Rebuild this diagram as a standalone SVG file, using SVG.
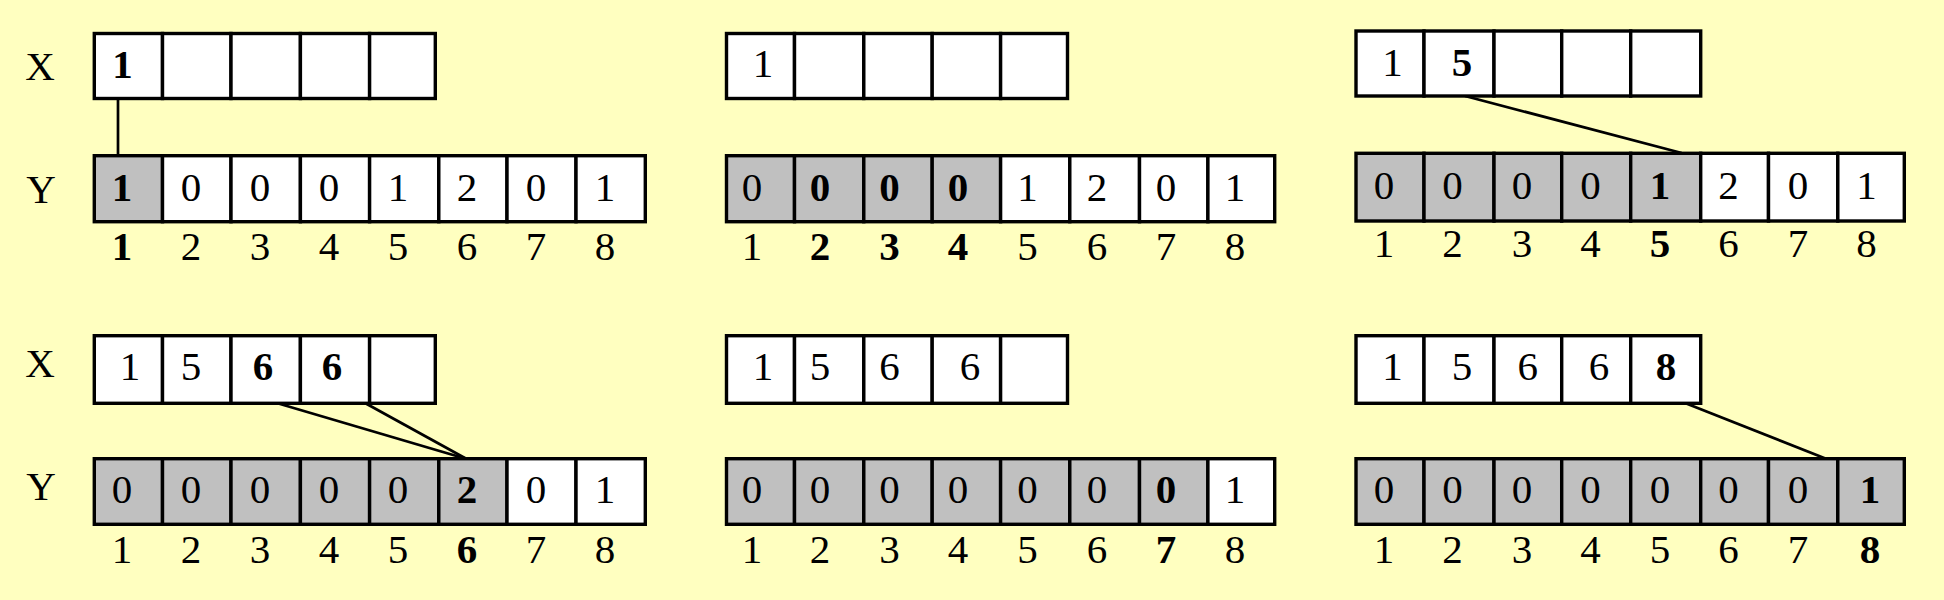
<svg xmlns="http://www.w3.org/2000/svg" width="1944" height="600" viewBox="0 0 1944 600">
<style>
.c{fill:#fff;stroke:#000;stroke-width:3.4}
.g{fill:#c0c0c0;stroke:#000;stroke-width:3.4}
.t{font-family:"Liberation Serif","Times New Roman",serif;font-size:41px;text-anchor:middle;fill:#000}
.b{font-weight:bold}
.ln{stroke:#000;stroke-width:2.7;fill:none}
</style>
<rect width="1944" height="600" fill="#ffffc0"/>
<g id="connectors">
<line class="ln" x1="118" y1="99" x2="118" y2="156"/>
<line class="ln" x1="1465" y1="96" x2="1681.7" y2="153"/>
<line class="ln" x1="276.7" y1="403" x2="466.7" y2="459"/>
<line class="ln" x1="365" y1="403" x2="466.7" y2="459"/>
<line class="ln" x1="1685" y1="403" x2="1826.7" y2="459"/>
</g>
<g id="labels">
<text class="t" x="40" y="80">X</text>
<text class="t" x="41" y="202.7">Y</text>
<text class="t" x="40" y="377">X</text>
<text class="t" x="41" y="499.5">Y</text>
</g>
<!-- Panel 1 top -->
<g id="p1-x">
<rect class="c" x="94.3" y="33.5" width="68.2" height="65"/>
<rect class="c" x="162.5" y="33.5" width="68.5" height="65"/>
<rect class="c" x="231" y="33.5" width="69.4" height="65"/>
<rect class="c" x="300.4" y="33.5" width="69.2" height="65"/>
<rect class="c" x="369.6" y="33.5" width="65.7" height="65"/>
<text class="t b" x="122.5" y="78">1</text>
</g>
<g id="p1-y">
<rect class="g" x="94.3" y="155.7" width="68.2" height="66"/>
<rect class="c" x="162.5" y="155.7" width="68.5" height="66"/>
<rect class="c" x="231" y="155.7" width="69.4" height="66"/>
<rect class="c" x="300.4" y="155.7" width="69.2" height="66"/>
<rect class="c" x="369.6" y="155.7" width="69.2" height="66"/>
<rect class="c" x="438.8" y="155.7" width="68.2" height="66"/>
<rect class="c" x="507" y="155.7" width="69" height="66"/>
<rect class="c" x="576" y="155.7" width="69.3" height="66"/>
<text class="t b" x="122" y="201">1</text>
<text class="t" x="191" y="201">0</text>
<text class="t" x="260" y="201">0</text>
<text class="t" x="329" y="201">0</text>
<text class="t" x="398" y="201">1</text>
<text class="t" x="467" y="201">2</text>
<text class="t" x="536" y="201">0</text>
<text class="t" x="605" y="201">1</text>
<text class="t b" x="122" y="260">1</text>
<text class="t" x="191" y="260">2</text>
<text class="t" x="260" y="260">3</text>
<text class="t" x="329" y="260">4</text>
<text class="t" x="398" y="260">5</text>
<text class="t" x="467" y="260">6</text>
<text class="t" x="536" y="260">7</text>
<text class="t" x="605" y="260">8</text>
</g>
<!-- Panel 2 top -->
<g id="p2-x">
<rect class="c" x="726.5" y="33.5" width="68" height="65"/>
<rect class="c" x="794.5" y="33.5" width="69.3" height="65"/>
<rect class="c" x="863.8" y="33.5" width="68.4" height="65"/>
<rect class="c" x="932.2" y="33.5" width="68.4" height="65"/>
<rect class="c" x="1000.6" y="33.5" width="66.9" height="65"/>
<text class="t" x="763" y="77">1</text>
</g>
<g id="p2-y">
<rect class="g" x="726.5" y="155.7" width="68" height="66"/>
<rect class="g" x="794.5" y="155.7" width="69.3" height="66"/>
<rect class="g" x="863.8" y="155.7" width="68.4" height="66"/>
<rect class="g" x="932.2" y="155.7" width="68.4" height="66"/>
<rect class="c" x="1000.6" y="155.7" width="69.2" height="66"/>
<rect class="c" x="1069.8" y="155.7" width="69.7" height="66"/>
<rect class="c" x="1139.5" y="155.7" width="68.4" height="66"/>
<rect class="c" x="1207.9" y="155.7" width="66.8" height="66"/>
<text class="t" x="752" y="201">0</text>
<text class="t b" x="820" y="201">0</text>
<text class="t b" x="889.5" y="201">0</text>
<text class="t b" x="958" y="201">0</text>
<text class="t" x="1027.5" y="201">1</text>
<text class="t" x="1097" y="201">2</text>
<text class="t" x="1166" y="201">0</text>
<text class="t" x="1235" y="201">1</text>
<text class="t" x="752" y="260">1</text>
<text class="t b" x="820" y="260">2</text>
<text class="t b" x="889.5" y="260">3</text>
<text class="t b" x="958" y="260">4</text>
<text class="t" x="1027.5" y="260">5</text>
<text class="t" x="1097" y="260">6</text>
<text class="t" x="1166" y="260">7</text>
<text class="t" x="1235" y="260">8</text>
</g>
<!-- Panel 3 top -->
<g id="p3-x">
<rect class="c" x="1356" y="31" width="68" height="65"/>
<rect class="c" x="1424" y="31" width="70" height="65"/>
<rect class="c" x="1494" y="31" width="67.7" height="65"/>
<rect class="c" x="1561.7" y="31" width="69" height="65"/>
<rect class="c" x="1630.7" y="31" width="70" height="65"/>
<text class="t" x="1392.6" y="76">1</text>
<text class="t b" x="1462" y="76">5</text>
</g>
<g id="p3-y">
<rect class="g" x="1356" y="153.3" width="68" height="67.7"/>
<rect class="g" x="1424" y="153.3" width="70" height="67.7"/>
<rect class="g" x="1494" y="153.3" width="67.7" height="67.7"/>
<rect class="g" x="1561.7" y="153.3" width="69" height="67.7"/>
<rect class="g" x="1630.7" y="153.3" width="70" height="67.7"/>
<rect class="c" x="1700.7" y="153.3" width="67.8" height="67.7"/>
<rect class="c" x="1768.5" y="153.3" width="69.3" height="67.7"/>
<rect class="c" x="1837.8" y="153.3" width="66.5" height="67.7"/>
<text class="t" x="1384" y="198.5">0</text>
<text class="t" x="1452.5" y="198.5">0</text>
<text class="t" x="1522" y="198.5">0</text>
<text class="t" x="1590.5" y="198.5">0</text>
<text class="t b" x="1660" y="198.5">1</text>
<text class="t" x="1728.6" y="198.5">2</text>
<text class="t" x="1798" y="198.5">0</text>
<text class="t" x="1866.4" y="198.5">1</text>
<text class="t" x="1384" y="257">1</text>
<text class="t" x="1452.5" y="257">2</text>
<text class="t" x="1522" y="257">3</text>
<text class="t" x="1590.5" y="257">4</text>
<text class="t b" x="1660" y="257">5</text>
<text class="t" x="1728.6" y="257">6</text>
<text class="t" x="1798" y="257">7</text>
<text class="t" x="1866.4" y="257">8</text>
</g>
<!-- Panel 4 bottom left -->
<g id="p4-x">
<rect class="c" x="94.3" y="335.7" width="68.2" height="67.6"/>
<rect class="c" x="162.5" y="335.7" width="68.5" height="67.6"/>
<rect class="c" x="231" y="335.7" width="69.4" height="67.6"/>
<rect class="c" x="300.4" y="335.7" width="69.2" height="67.6"/>
<rect class="c" x="369.6" y="335.7" width="65.7" height="67.6"/>
<text class="t" x="130" y="380">1</text>
<text class="t" x="191" y="380">5</text>
<text class="t b" x="263" y="380">6</text>
<text class="t b" x="332" y="380">6</text>
</g>
<g id="p4-y">
<rect class="g" x="94.3" y="458.7" width="68.2" height="65.6"/>
<rect class="g" x="162.5" y="458.7" width="68.5" height="65.6"/>
<rect class="g" x="231" y="458.7" width="69.4" height="65.6"/>
<rect class="g" x="300.4" y="458.7" width="69.2" height="65.6"/>
<rect class="g" x="369.6" y="458.7" width="69.2" height="65.6"/>
<rect class="g" x="438.8" y="458.7" width="68.2" height="65.6"/>
<rect class="c" x="507" y="458.7" width="69" height="65.6"/>
<rect class="c" x="576" y="458.7" width="69.3" height="65.6"/>
<text class="t" x="122" y="502.7">0</text>
<text class="t" x="191" y="502.7">0</text>
<text class="t" x="260" y="502.7">0</text>
<text class="t" x="329" y="502.7">0</text>
<text class="t" x="398" y="502.7">0</text>
<text class="t b" x="467" y="502.7">2</text>
<text class="t" x="536" y="502.7">0</text>
<text class="t" x="605" y="502.7">1</text>
<text class="t" x="122" y="563">1</text>
<text class="t" x="191" y="563">2</text>
<text class="t" x="260" y="563">3</text>
<text class="t" x="329" y="563">4</text>
<text class="t" x="398" y="563">5</text>
<text class="t b" x="467" y="563">6</text>
<text class="t" x="536" y="563">7</text>
<text class="t" x="605" y="563">8</text>
</g>
<!-- Panel 5 bottom middle -->
<g id="p5-x">
<rect class="c" x="726.5" y="335.7" width="68" height="67.6"/>
<rect class="c" x="794.5" y="335.7" width="69.3" height="67.6"/>
<rect class="c" x="863.8" y="335.7" width="68.4" height="67.6"/>
<rect class="c" x="932.2" y="335.7" width="68.4" height="67.6"/>
<rect class="c" x="1000.6" y="335.7" width="66.9" height="67.6"/>
<text class="t" x="763" y="380">1</text>
<text class="t" x="820" y="380">5</text>
<text class="t" x="889.5" y="380">6</text>
<text class="t" x="970" y="380">6</text>
</g>
<g id="p5-y">
<rect class="g" x="726.5" y="458.7" width="68" height="65.6"/>
<rect class="g" x="794.5" y="458.7" width="69.3" height="65.6"/>
<rect class="g" x="863.8" y="458.7" width="68.4" height="65.6"/>
<rect class="g" x="932.2" y="458.7" width="68.4" height="65.6"/>
<rect class="g" x="1000.6" y="458.7" width="69.2" height="65.6"/>
<rect class="g" x="1069.8" y="458.7" width="69.7" height="65.6"/>
<rect class="g" x="1139.5" y="458.7" width="68.4" height="65.6"/>
<rect class="c" x="1207.9" y="458.7" width="66.8" height="65.6"/>
<text class="t" x="752" y="502.7">0</text>
<text class="t" x="820" y="502.7">0</text>
<text class="t" x="889.5" y="502.7">0</text>
<text class="t" x="958" y="502.7">0</text>
<text class="t" x="1027.5" y="502.7">0</text>
<text class="t" x="1097" y="502.7">0</text>
<text class="t b" x="1166" y="502.7">0</text>
<text class="t" x="1235" y="502.7">1</text>
<text class="t" x="752" y="563">1</text>
<text class="t" x="820" y="563">2</text>
<text class="t" x="889.5" y="563">3</text>
<text class="t" x="958" y="563">4</text>
<text class="t" x="1027.5" y="563">5</text>
<text class="t" x="1097" y="563">6</text>
<text class="t b" x="1166" y="563">7</text>
<text class="t" x="1235" y="563">8</text>
</g>
<!-- Panel 6 bottom right -->
<g id="p6-x">
<rect class="c" x="1356" y="335.7" width="68" height="67.6"/>
<rect class="c" x="1424" y="335.7" width="70" height="67.6"/>
<rect class="c" x="1494" y="335.7" width="67.7" height="67.6"/>
<rect class="c" x="1561.7" y="335.7" width="69" height="67.6"/>
<rect class="c" x="1630.7" y="335.7" width="70" height="67.6"/>
<text class="t" x="1392.6" y="380">1</text>
<text class="t" x="1462" y="380">5</text>
<text class="t" x="1527.7" y="380">6</text>
<text class="t" x="1599" y="380">6</text>
<text class="t b" x="1666" y="380">8</text>
</g>
<g id="p6-y">
<rect class="g" x="1356" y="458.7" width="68" height="65.6"/>
<rect class="g" x="1424" y="458.7" width="70" height="65.6"/>
<rect class="g" x="1494" y="458.7" width="67.7" height="65.6"/>
<rect class="g" x="1561.7" y="458.7" width="69" height="65.6"/>
<rect class="g" x="1630.7" y="458.7" width="70" height="65.6"/>
<rect class="g" x="1700.7" y="458.7" width="67.8" height="65.6"/>
<rect class="g" x="1768.5" y="458.7" width="69.3" height="65.6"/>
<rect class="g" x="1837.8" y="458.7" width="66.5" height="65.6"/>
<text class="t" x="1384" y="502.7">0</text>
<text class="t" x="1452.5" y="502.7">0</text>
<text class="t" x="1522" y="502.7">0</text>
<text class="t" x="1590.5" y="502.7">0</text>
<text class="t" x="1660" y="502.7">0</text>
<text class="t" x="1728.6" y="502.7">0</text>
<text class="t" x="1798" y="502.7">0</text>
<text class="t b" x="1870" y="502.7">1</text>
<text class="t" x="1384" y="563">1</text>
<text class="t" x="1452.5" y="563">2</text>
<text class="t" x="1522" y="563">3</text>
<text class="t" x="1590.5" y="563">4</text>
<text class="t" x="1660" y="563">5</text>
<text class="t" x="1728.6" y="563">6</text>
<text class="t" x="1798" y="563">7</text>
<text class="t b" x="1870" y="563">8</text>
</g>
</svg>
